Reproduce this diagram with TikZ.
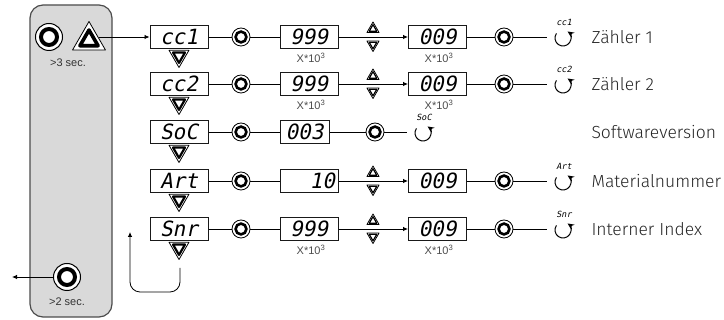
\documentclass[tikz,border=0pt]{standalone}
\usepackage{fontspec}
\setmainfont{Liberation Sans}
\newfontfamily\lblfont{Fira Sans Light}
\newfontfamily\lcdfont{DejaVu Sans Mono}[FakeSlant=0.2]
\usetikzlibrary{arrows.meta,calc}
% double-outlined triangle: #1 centre, #2 radius, #3 apex angle, #4 inner line width, #5 inner factor
\newcommand\mytri[5]{%
  \begin{scope}[shift={#1}]
    \draw[line width=0.8pt,line join=round,fill=white] (#3:#2) -- (#3+120:#2) -- (#3+240:#2) -- cycle;
    \draw[line width=#4,line join=round] (#3:#5*#2) -- (#3+120:#5*#2) -- (#3+240:#5*#2) -- cycle;
  \end{scope}}
% turn-around symbol: #1 centre coordinate, #2 small display text
\newcommand\myloop[2]{%
  \draw[loopline] ($(#1)+(215:8)$) arc[start angle=215,end angle=-55,radius=8];
  \node[smalllcd] at ($(#1)+(1,-16)$) {#2};}
\begin{document}
\begin{tikzpicture}[x=1pt,y=-1pt,
  disp/.style={draw=black!90,line width=1pt,minimum width=58pt,minimum height=23pt,inner sep=0pt,
    font=\lcdfont\fontsize{21}{21}\selectfont},
  btn/.style={circle,draw,fill=white,line width=0.8pt,minimum size=18pt,inner sep=0pt,
    path picture={\draw[line width=2.6pt] (path picture bounding box.center) circle[radius=5.4pt];}},
  bigbtn/.style={circle,draw,fill=white,line width=1pt,minimum size=27pt,inner sep=0pt,
    path picture={\draw[line width=4pt] (path picture bounding box.center) circle[radius=8pt];}},
  conn/.style={line width=0.8pt},
  arr/.style={line width=0.8pt,-{Latex[length=5pt,width=4.5pt]}},
  loopline/.style={line width=1pt,-{Stealth[length=6.5pt,width=6pt]}},
  mult/.style={font=\fontsize{11}{12}\selectfont,text=black!70},
  lbl/.style={anchor=west,font=\lblfont\fontsize{17.5}{18}\selectfont,text=black!85},
  smalllcd/.style={font=\lcdfont\fontsize{8.5}{9}\selectfont},
  sectxt/.style={font=\fontsize{11}{12}\selectfont,text=black!80}]
\useasboundingbox (0,0) rectangle (724,320);

% panel
\draw[fill=black!15,draw=black!70,line width=1.2pt,rounded corners=13pt] (30,5) rectangle (112,317);
\node[bigbtn] (pb1) at (49,37) {};
\mytri{(89,40.5)}{19}{-90}{3.6pt}{0.55}
\coordinate (trig) at (99,37);
\node[sectxt] (t3) at (68,63) {>3 sec.};
\node[bigbtn] (pb2) at (67,277) {};
\node[sectxt] (t2) at (67,302) {>2 sec.};
\coordinate (exit) at (12,277);
\draw[arr] (pb2.west) -- (exit);

% rows: 1 cc1 (37), 2 cc2 (84), 3 SoC (132), 4 Art (181), 5 Snr (229)
\foreach \r/\y/\t in {1/37/cc1,2/84/cc2,3/132/SoC,4/181/Art,5/229/Snr}{
  \node[disp] (d\r) at (179,\y) {\t};
  \mytri{(179,\y+19)}{11.5}{90}{2.2pt}{0.6}
  \node[btn] (c\r) at (241,\y) {};
  \draw[conn] (d\r.east) -- (c\r.west);
}
\draw[arr] (trig) -- (d1.west);

% full rows with value setting
\foreach \r/\y/\v/\l in {1/37/999/Zähler 1,2/84/999/Zähler 2,5/229/999/Interner Index}{
  \node[disp] (a\r) at (309,\y) {\v};
  \node[mult] at (311,\y+21) {X*10\textsuperscript{3}};
  \node[disp] (b\r) at (437.5,\y) {009};
  \node[mult] at (439,\y+21) {X*10\textsuperscript{3}};
}
\node[disp,text width=52pt,align=right] (a4) at (309,181) {10};
\node[disp] (b4) at (437.5,181) {009};

\foreach \r/\y/\s/\l in {1/37/cc1/Zähler 1,2/84/cc2/Zähler 2,4/181/Art/Materialnummer,5/229/Snr/Interner Index}{
  \draw[conn] (c\r.east) -- (a\r.west);
  \draw[arr] (a\r.east) -- (b\r.west);
  \mytri{(373,\y-8)}{7}{-90}{1.2pt}{0.62}
  \mytri{(373,\y+7.5)}{7}{90}{1.2pt}{0.62}
  \node[btn] (e\r) at (504,\y) {};
  \draw[conn] (b\r.east) -- (e\r.west);
  \coordinate (f\r) at (547,\y);
  \draw[conn] (e\r.east) -- (f\r);
  \coordinate (g\r) at (563,\y+1);
  \myloop{g\r}{\s}
  \node[lbl] (l\r) at (588,\y) {\l};
}

% SoC row
\node[disp,minimum width=49pt] (a3) at (304.5,132) {003};
\draw[conn] (c3.east) -- (a3.west);
\node[btn] (e3) at (375,132) {};
\draw[conn] (a3.east) -- (e3.west);
\coordinate (f3) at (407,132);
\draw[conn] (e3.east) -- (f3);
\coordinate (g3) at (423,133);
\myloop{g3}{SoC}
\node[lbl] (l3) at (588,132) {Softwareversion};

% feedback from last entry
\coordinate (fb0) at (180,268);
\coordinate (fb1) at (130,232);
\draw[arr,rounded corners=10pt] (fb0) -- (180,292) -- (130,292) -- (fb1);
\end{tikzpicture}
\end{document}
